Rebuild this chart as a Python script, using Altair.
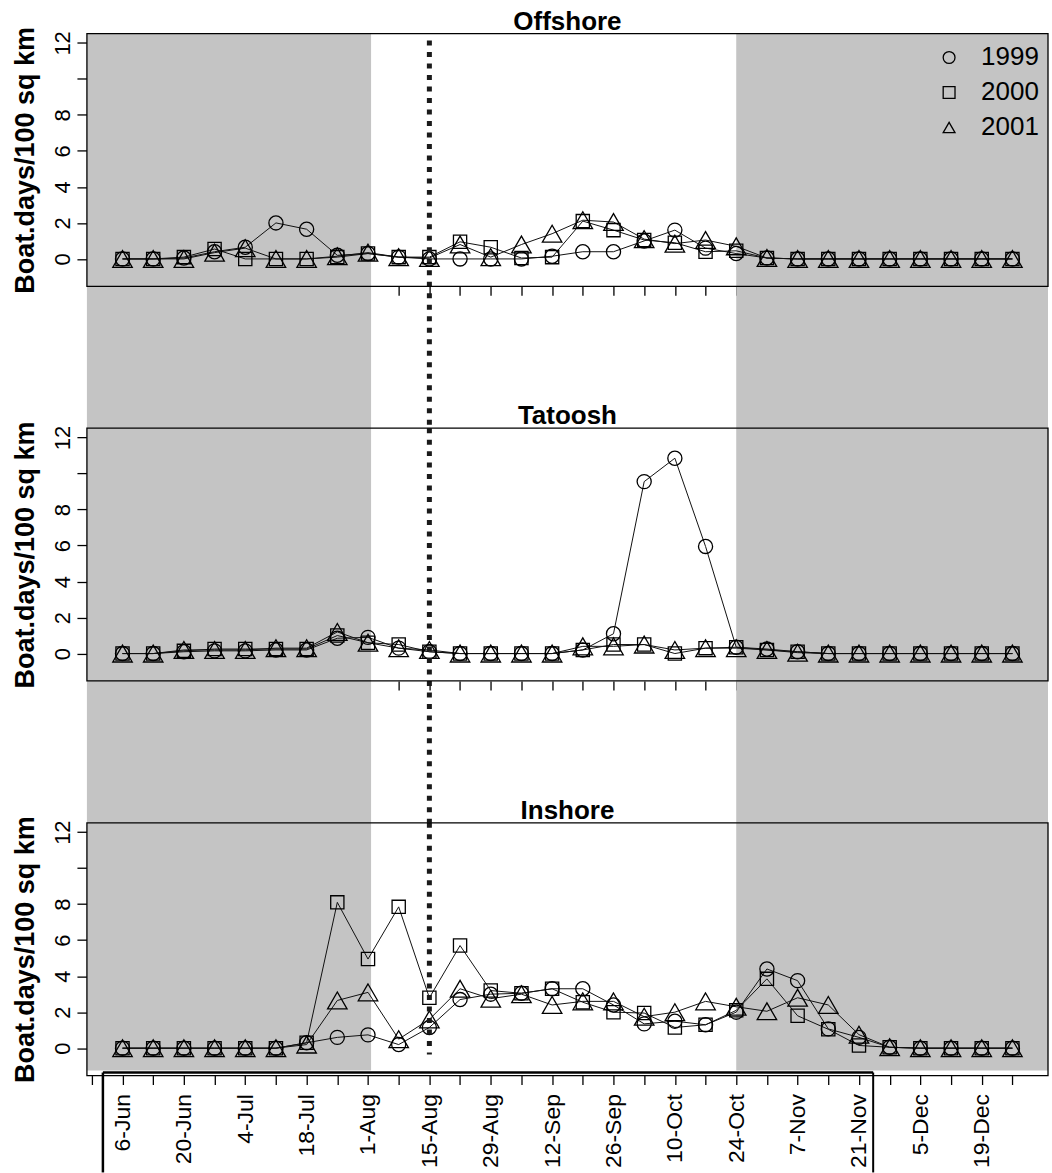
import altair as alt
import pandas as pd

# ---------------- data ----------------
years = ["1999", "2000", "2001"]
week_index = list(range(30))          # weekly samples, 6-Jun ... 26-Dec
tick_labels = ["6-Jun", "20-Jun", "4-Jul", "18-Jul", "1-Aug", "15-Aug", "29-Aug",
               "12-Sep", "26-Sep", "10-Oct", "24-Oct", "7-Nov", "21-Nov", "5-Dec", "19-Dec"]
panel_names = ["Offshore", "Tatoosh", "Inshore"]

offshore_1999 = [0, 0, 0.05, 0.4, 0.65, 2.0, 1.65, 0.2, 0.3, 0.1, 0.0, 0.0, 0.0, 0.0, 0.15,
                 0.4, 0.4, 1.0, 1.6, 0.6, 0.3, 0.05, 0, 0, 0, 0, 0, 0, 0, 0]
offshore_2000 = [0, 0, 0.1, 0.55, 0.0, 0.0, 0.0, 0.1, 0.3, 0.1, 0.1, 0.95, 0.65, 0.05, 0.1,
                 2.1, 1.6, 1.05, 0.9, 0.4, 0.45, 0.05, 0, 0, 0, 0, 0, 0, 0, 0]
offshore_2001 = [0, 0, 0, 0.35, 0.6, 0, 0, 0.15, 0.35, 0.1, 0.05, 0.8, 0.1, 0.8, 1.4,
                 2.15, 2.05, 1.1, 0.85, 1.05, 0.7, 0.05, 0, 0, 0, 0, 0, 0, 0, 0]

tatoosh_1999 = [0, 0, 0.1, 0.15, 0.15, 0.2, 0.2, 0.85, 0.9, 0.3, 0.1, 0, 0, 0, 0,
                0.2, 1.1, 9.55, 10.85, 5.95, 0.35, 0.25, 0.1, 0, 0, 0, 0, 0, 0, 0]
tatoosh_2000 = [0, 0, 0.15, 0.25, 0.25, 0.25, 0.25, 1.0, 0.6, 0.5, 0.1, 0, 0, 0, 0,
                0.2, 0.5, 0.5, 0.0, 0.3, 0.35, 0.2, 0.1, 0, 0, 0, 0, 0, 0, 0]
tatoosh_2001 = [0, 0, 0.2, 0.2, 0.2, 0.3, 0.3, 1.2, 0.6, 0.3, 0.2, 0, 0, 0, 0,
                0.4, 0.4, 0.5, 0.2, 0.3, 0.3, 0.2, 0.05, 0, 0, 0, 0, 0, 0, 0]

inshore_1999 = [0, 0, 0, 0, 0, 0, 0.3, 0.6, 0.74, 0.2, 1.15, 2.7, 3.0, 3.05, 3.3,
                3.3, 2.4, 1.35, 1.5, 1.3, 2.0, 4.4, 3.75, 1.07, 0.6, 0.05, 0, 0, 0, 0]
inshore_2000 = [0, 0, 0, 0, 0, 0, 0.3, 8.1, 4.95, 7.85, 2.8, 5.7, 3.2, 3.05, 3.3,
                2.55, 2.0, 1.95, 1.15, 1.3, 2.1, 3.85, 1.8, 1.05, 0.15, 0.05, 0, 0, 0, 0]
inshore_2001 = [0, 0, 0, 0, 0, 0, 0.2, 2.65, 3.1, 0.5, 1.6, 3.3, 2.75, 3.0, 2.4,
                2.6, 2.6, 1.75, 2.0, 2.6, 2.3, 2.05, 2.8, 2.4, 0.75, 0.05, 0, 0, 0, 0]

# closed seasons (shaded) in week units, and the opening date (15-Aug)
shade_start = [-1.16, 20.0]
shade_end = [8.1, 30.16]
opening_week = [10]

X_DOMAIN = [-1.16, 30.16]
Y_DOMAIN = [-1.52, 12.52]
W, H, GAP = 962, 253, 142
FONT = "Liberation Sans"


def long_df(series):
    rows = []
    for yr, vals in zip(years, series):
        for w, v in zip(week_index, vals):
            rows.append({"week": w, "value": v, "year": yr})
    return pd.DataFrame(rows)


shade_df = pd.DataFrame({"x0": shade_start, "x1": shade_end})
rule_df = pd.DataFrame({"week": opening_week})

label_js = "[" + ",".join("'" + t + "'" for t in tick_labels) + "]"
x_label_expr = "(datum.value >= 0 && datum.value % 2 == 0) ? " + label_js + "[datum.value / 2] : ''"

xs = alt.Scale(domain=X_DOMAIN, nice=False, zero=False)
ys = alt.Scale(domain=Y_DOMAIN, nice=False, zero=False)

marker_sizes = {"1999": 200, "2000": 175, "2001": 380}


def panel(name, df, idx):
    last = idx == 2
    first = idx == 0
    if last:
        x_axis = alt.Axis(values=[-1] + week_index, labelExpr=x_label_expr, labelAngle=270,
                          labelAlign="right", labelBaseline="middle", labelFontSize=23,
                          labelPadding=9, labelOverlap=False, labelFlush=False,
                          tickSize=9, tickWidth=1.3, domain=False, grid=False, title=None)
    else:
        x_axis = alt.Axis(values=week_index, labels=False, tickSize=9, tickWidth=1.3,
                          domain=False, grid=False, title=None)
    y_axis = alt.Axis(values=[0, 2, 4, 6, 8, 10, 12],
                      labelExpr="datum.value == 10 ? '' : datum.label",
                      labelAngle=270, labelAlign="center", labelBaseline="bottom",
                      labelFontSize=22, labelPadding=2, labelOverlap=False, labelFlush=False,
                      tickSize=10, tickWidth=1.3, domain=False, grid=False,
                      title="Boat.days/100 sq km", titleFontSize=27, titleFontWeight="bold",
                      titlePadding=12)

    def X(field):
        return alt.X(field + ":Q", scale=xs, axis=x_axis)

    def Y(field):
        return alt.Y(field + ":Q", scale=ys, axis=y_axis)

    span = H + GAP if not last else H - 5
    shade = alt.Chart(shade_df).mark_rect(color="#c4c4c4").encode(
        x=X("x0"),
        x2="x1:Q",
        y=alt.value(0),
        y2=alt.value(span),
    )

    lines = alt.Chart(df).mark_line(color="#111111", strokeWidth=1.0).encode(
        x=X("week"),
        y=Y("value"),
        detail="year:N",
    )

    if first:
        legend = alt.Legend(title=None, orient="none", legendX=850, legendY=11,
                            symbolSize=140, symbolStrokeWidth=1.3, symbolStrokeColor="black",
                            labelFontSize=26, labelFont=FONT, labelColor="black",
                            labelOffset=19, rowPadding=9, labelLimit=200)
    else:
        legend = None
    shape_enc = alt.Shape("year:N",
                          scale=alt.Scale(domain=years, range=["circle", "square", "triangle-up"]),
                          legend=legend)

    pts = []
    for yr in years:
        pts.append(
            alt.Chart(df).transform_filter(alt.datum.year == yr).mark_point(
                filled=False, size=marker_sizes[yr], strokeWidth=1.3, color="black", opacity=1
            ).encode(
                x=X("week"),
                y=Y("value"),
                shape=shape_enc,
            )
        )

    r_top = 7 if first else 0
    r_bot = H + GAP if not last else 232
    rule = alt.Chart(rule_df).mark_rule(color="#1a1a1a", strokeWidth=5, strokeDash=[5, 6.5]).encode(
        x=X("week"),
        y=alt.value(r_top),
        y2=alt.value(r_bot),
    )

    # panel frame drawn on top of the shading
    frame = alt.Chart(rule_df).mark_rect(fill="transparent", stroke="black", strokeWidth=1.3).encode(
        x=alt.value(0), x2=alt.value(W), y=alt.value(0), y2=alt.value(H))

    # panel heading
    heading = alt.Chart(rule_df).mark_text(
        text=name, font=FONT, fontSize=26, fontWeight="bold", color="black",
        align="center", baseline="alphabetic"
    ).encode(x=alt.value(W / 2), y=alt.value(-4))

    layers = [shade, lines] + pts + [rule, frame, heading]

    if last:
        # heavy frame drawn under the date labels in the original figure
        fr1 = alt.Chart(rule_df).mark_rule(color="black", strokeWidth=2.5).encode(
            x=alt.value(16), x2=alt.value(787), y=alt.value(250))
        fr2 = alt.Chart(rule_df).mark_rule(color="black", strokeWidth=2.5).encode(
            x=alt.value(16), y=alt.value(250), y2=alt.value(350))
        fr3 = alt.Chart(rule_df).mark_rule(color="black", strokeWidth=2.0).encode(
            x=alt.value(787), y=alt.value(250), y2=alt.value(350))
        layers += [fr1, fr2, fr3]

    return alt.layer(*layers).properties(width=W, height=H)


dfs = [
    long_df([offshore_1999, offshore_2000, offshore_2001]),
    long_df([tatoosh_1999, tatoosh_2000, tatoosh_2001]),
    long_df([inshore_1999, inshore_2000, inshore_2001]),
]

panels = [panel(n, d, i) for i, (n, d) in enumerate(zip(panel_names, dfs))]

chart = alt.vconcat(*panels, spacing=GAP, bounds="flush").resolve_scale(
    shape="independent"
).resolve_legend(shape="independent").properties(
    padding={"left": 11, "top": 8, "right": 3, "bottom": 0},
    background="white",
).configure_view(
    strokeWidth=0
).configure_axis(
    labelFont=FONT, titleFont=FONT, labelColor="black", titleColor="black", tickColor="black"
)

chart.save("out.html", embed_options={"renderer": "svg", "actions": False})
